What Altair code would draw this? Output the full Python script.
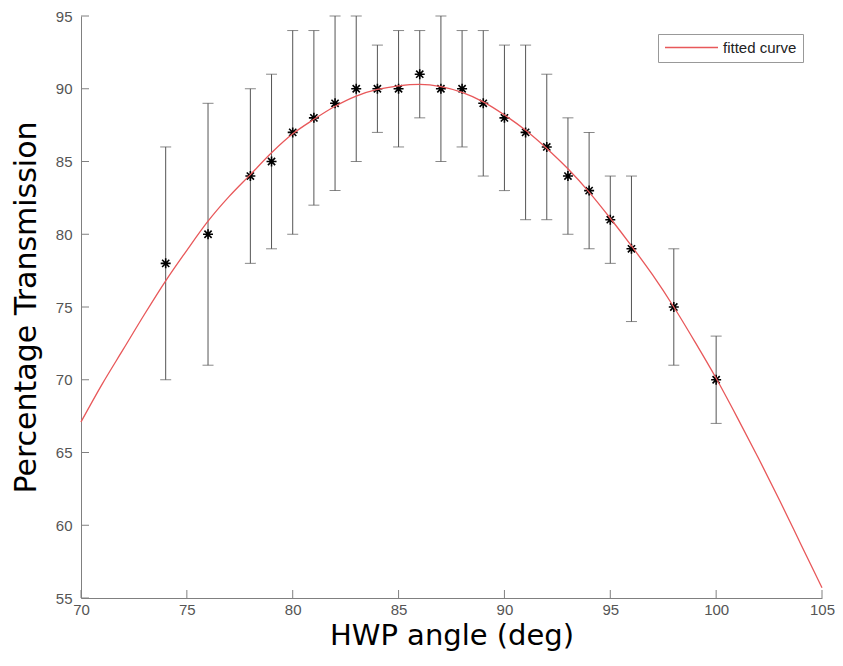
import altair as alt
import pandas as pd

# Measured points
angles = [74, 76, 78, 79, 80, 81, 82, 83, 84, 85, 86, 87, 88, 89, 90, 91, 92, 93, 94, 95, 96, 98, 100]
trans = [78, 80, 84, 85, 87, 88, 89, 90, 90, 90, 91, 90, 90, 89, 88, 87, 86, 84, 83, 81, 79, 75, 70]
err_lo = [70, 71, 78, 79, 80, 82, 83, 85, 87, 86, 88, 85, 86, 84, 83, 81, 81, 80, 79, 78, 74, 71, 67]
err_hi = [86, 89, 90, 91, 94, 94, 95, 95, 93, 94, 94, 95, 94, 94, 93, 93, 91, 88, 87, 84, 84, 79, 73]

# Fitted curve
curve_x = list(range(70, 106))
curve_y = [67.1, 69.7, 72.1, 74.5, 76.8, 78.9, 80.9, 82.6, 84.1, 85.6, 86.9, 87.9, 88.8, 89.5,
           89.95, 90.2, 90.3, 90.15, 89.75, 89.1, 88.2, 87.15, 85.9, 84.5, 82.9, 81.1, 79.2,
           77.2, 75.0, 72.6, 70.1, 67.4, 64.6, 61.7, 58.7, 55.7]

x_ticks = [70, 75, 80, 85, 90, 95, 100, 105]
y_ticks = [55, 60, 65, 70, 75, 80, 85, 90, 95]

W, H = 741, 582
RED = "#e8585a"

pts = pd.DataFrame({"angle": angles, "t": trans, "lo": err_lo, "hi": err_hi})
curve = pd.DataFrame({"angle": curve_x, "t": curve_y, "series": ["fitted curve"] * len(curve_x)})
xt = pd.DataFrame({"v": x_ticks})
yt = pd.DataFrame({"v": y_ticks})

xscale = alt.Scale(domain=[70, 105], nice=False, zero=False)
yscale = alt.Scale(domain=[55, 95], nice=False, zero=False)

xaxis = alt.Axis(values=x_ticks, title="HWP angle (deg)", ticks=False, grid=False,
                 labelPadding=4, labelFontSize=15, labelFont="Liberation Sans",
                 labelColor="#555555", domainColor="#808080", labelFlush=False,
                 titleFont="DejaVu Sans", titleFontSize=29, titleFontWeight="normal",
                 titleColor="#000000", titleBaseline="alphabetic", titleY=46)
yaxis = alt.Axis(values=y_ticks, title="Percentage Transmission", ticks=False, grid=False,
                 labelPadding=9, labelFontSize=15, labelFont="Liberation Sans",
                 labelColor="#555555", domainColor="#808080", labelFlush=False,
                 titleFont="DejaVu Sans", titleFontSize=30, titleFontWeight="normal",
                 titleColor="#000000", titlePadding=14)

bars = alt.Chart(pts).mark_errorbar(
    ticks={"size": 11, "thickness": 1, "color": "#555555"}, color="#555555", thickness=1
).encode(
    x=alt.X("angle:Q", scale=xscale, axis=xaxis),
    y=alt.Y("lo:Q", scale=yscale, axis=yaxis, title="Percentage Transmission"),
    y2="hi:Q",
)

star_path = "M-1,0L1,0M0,-1L0,1M-0.72,-0.72L0.72,0.72M-0.72,0.72L0.72,-0.72"
stars = alt.Chart(pts).mark_point(
    shape=star_path, size=100, filled=False, color="#000000", strokeWidth=1.6, opacity=1
).encode(
    x=alt.X("angle:Q", scale=xscale),
    y=alt.Y("t:Q", scale=yscale),
)

line = alt.Chart(curve).mark_line(strokeWidth=1.3, interpolate="monotone").encode(
    x=alt.X("angle:Q", scale=xscale),
    y=alt.Y("t:Q", scale=yscale),
    color=alt.Color("series:N", scale=alt.Scale(domain=["fitted curve"], range=[RED]),
                    legend=alt.Legend(title=None, orient="none", legendX=577, legendY=18,
                                      symbolType="stroke", symbolSize=2809, clipHeight=15,
                                      symbolStrokeWidth=1.3, strokeColor="#999999",
                                      fillColor="#ffffff", padding=6,
                                      labelFont="Liberation Sans", labelFontSize=15,
                                      labelColor="#222222", labelOffset=4)),
)

xtick_marks = alt.Chart(xt).mark_rule(color="#808080", strokeWidth=1).encode(
    x=alt.X("v:Q", scale=xscale), y=alt.value(H), y2=alt.value(H - 8)
)
ytick_marks = alt.Chart(yt).mark_rule(color="#808080", strokeWidth=1).encode(
    y=alt.Y("v:Q", scale=yscale), x=alt.value(0), x2=alt.value(8)
)

chart = alt.layer(xtick_marks, ytick_marks, bars, stars, line).properties(
    width=W, height=H,
    autosize=alt.AutoSizeParams(type="none"),
    padding={"left": 73, "top": 8, "right": 13, "bottom": 54},
).configure(background="#ffffff", view=alt.ViewConfig(stroke=None))

chart.save("out.html", embed_options={"renderer": "svg", "actions": False})
